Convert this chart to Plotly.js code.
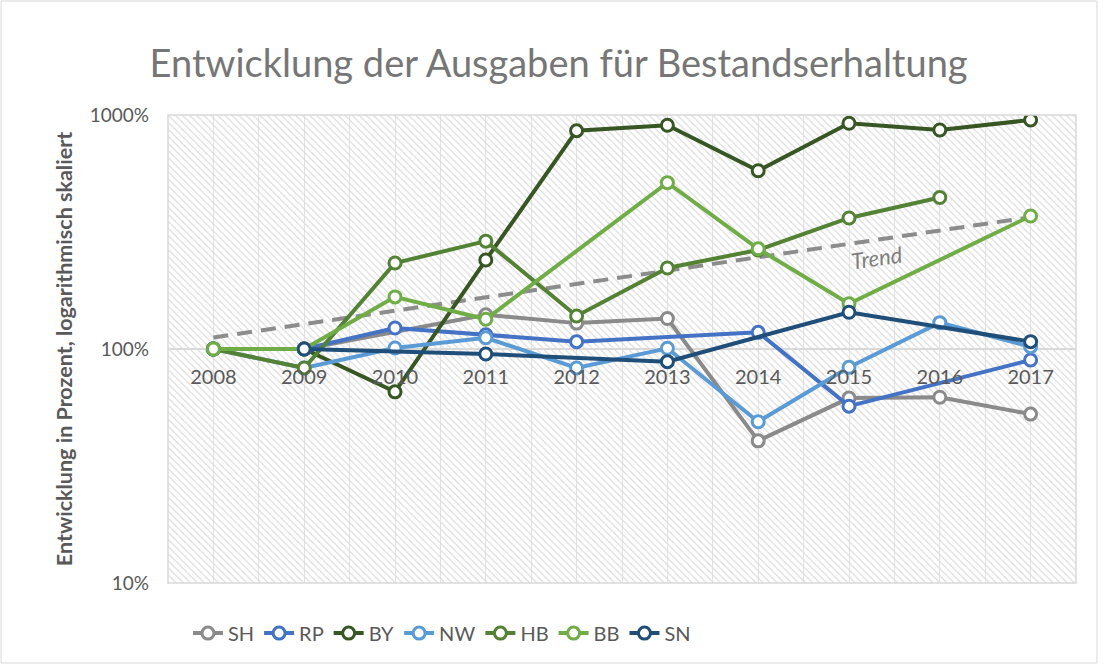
<!DOCTYPE html>
<html>
<head>
<meta charset="utf-8">
<script src="https://cdn.plot.ly/plotly-3.0.1.min.js"></script>
<style>html,body{margin:0;padding:0;background:#fff;}#chart{width:1104px;height:666px;}</style>
</head>
<body>
<div id="chart"></div>
<script>
// ---- data (values in percent, 2008 = 100 %) ----
const years = [2008, 2009, 2010, 2011, 2012, 2013, 2014, 2015, 2016, 2017];
const SH = [100, 100, null, 140, 129, 135, 40.5, 61.7, 62.2, 52.7];
const RP = [100, 100, 123, 115, 107.5, null, 117.8, 57, null, 89.7];
const BY = [100, 100, 65.6, 240, 857, 904, 578, 922, 863, 952];
const NW = [100, 83, 101, 111.7, 83, 100.7, 48.9, 83.5, 129.6, 102.3];
const HB = [100, 83, 233, 289, 138.4, 222, 265, 363, 444, null];
const BB = [100, 100, 167, 134, null, 514, 268, 156, null, 370];
const SN = [null, 100, null, 95.2, null, 88.3, null, 143.5, null, 107.5];
const trendYears = [2008, 2017];
const trendValues = [112, 366];
const seriesNames = ['SH', 'RP', 'BY', 'NW', 'HB', 'BB', 'SN'];
const seriesData = [SH, RP, BY, NW, HB, BB, SN];
const seriesColors = ['#8a8a8a', '#4472c4', '#375623', '#5b9bd5', '#548235', '#70ad47', '#1f4e79'];
const yTickVals = [10, 100, 1000];
const yTickText = ['10%', '100%', '1000%'];

const FONT = 'Lato, "Open Sans", sans-serif';

const traces = [];
// hatched plot background (decoration on hidden base axes)
traces.push({
  type: 'bar', x: [0.5], y: [1], width: [1], xaxis: 'x', yaxis: 'y',
  marker: {color: 'rgba(0,0,0,0)', line: {width: 0},
    pattern: {shape: '\\', fgcolor: '#dadada', bgcolor: 'rgba(0,0,0,0)', size: 5, solidity: 0.22}},
  hoverinfo: 'skip', showlegend: false
});
// trend line
traces.push({
  type: 'scatter', mode: 'lines', x: trendYears, y: trendValues, xaxis: 'x2', yaxis: 'y2',
  line: {color: '#8c8c8c', width: 4, dash: '15px,9px'}, hoverinfo: 'skip', showlegend: false
});
seriesNames.forEach((n, i) => {
  traces.push({
    type: 'scatter', mode: 'lines+markers', name: n, x: years, y: seriesData[i],
    xaxis: 'x2', yaxis: 'y2', connectgaps: true,
    line: {color: seriesColors[i], width: 4},
    marker: {symbol: 'circle', size: 12, color: '#ffffff', line: {color: seriesColors[i], width: 3}}
  });
});

const layout = {
  width: 1104, height: 666,
  margin: {l: 168, r: 28, t: 115, b: 83},
  paper_bgcolor: '#ffffff', plot_bgcolor: '#ffffff',
  font: {family: FONT, color: '#595959'},
  title: {text: 'Entwicklung der Ausgaben für Bestandserhaltung', font: {family: FONT, size: 38, color: '#767676'},
    x: 0.506, xref: 'container', xanchor: 'center', y: 0.905, yref: 'container', yanchor: 'middle'},
  xaxis: {range: [0, 1], visible: false, fixedrange: true},
  yaxis: {range: [0, 1], visible: false, fixedrange: true},
  xaxis2: {overlaying: 'x', anchor: 'free', position: 0.5, range: [2007.5, 2017.5],
    tickmode: 'linear', tick0: 2008, dtick: 1, tickformat: 'd', ticks: '', ticklabelstandoff: 14,
    showgrid: true, gridcolor: '#e3e3e3', gridwidth: 1, zeroline: false, showline: false,
    minor: {tick0: 2007.5, dtick: 0.5, showgrid: true, gridcolor: '#e3e3e3', gridwidth: 1},
    tickfont: {family: FONT, size: 20, color: '#595959'}},
  yaxis2: {overlaying: 'y', type: 'log', range: [1, 3], anchor: 'x2', side: 'left',
    tickmode: 'array', tickvals: yTickVals, ticktext: yTickText, ticks: '', ticklabelstandoff: 18,
    showgrid: true, gridcolor: '#d9d9d9', gridwidth: 1.5, zeroline: false, showline: false,
    tickfont: {family: FONT, size: 19, color: '#595959'},
    title: {text: '<b>Entwicklung in Prozent, logarithmisch skaliert</b>', standoff: 11,
      font: {family: FONT, size: 21.5, color: '#595959'}}},
  legend: {orientation: 'h', x: 0.022, xanchor: 'left', y: -0.107, yanchor: 'middle',
    font: {family: FONT, size: 20, color: '#595959'}, traceorder: 'normal', itemwidth: 30},
  annotations: [{text: 'Trend', xref: 'x2', yref: 'y2', x: 2015.3, y: 2.393, showarrow: false,
    textangle: -8, font: {family: FONT, size: 22, color: '#7f7f7f', style: 'italic'}}],
  shapes: [
    {type: 'rect', xref: 'paper', yref: 'paper', x0: 0, x1: 1, y0: 0, y1: 1, line: {color: '#d9d9d9', width: 1.5}},
    {type: 'rect', xref: 'paper', yref: 'paper', x0: -0.1839, x1: 1.0231, y0: -0.1709, y1: 1.2436, line: {color: '#d9d9d9', width: 1}}
  ],
  showlegend: true
};

Plotly.newPlot('chart', traces, layout, {displayModeBar: false, responsive: false});
</script>
</body>
</html>
